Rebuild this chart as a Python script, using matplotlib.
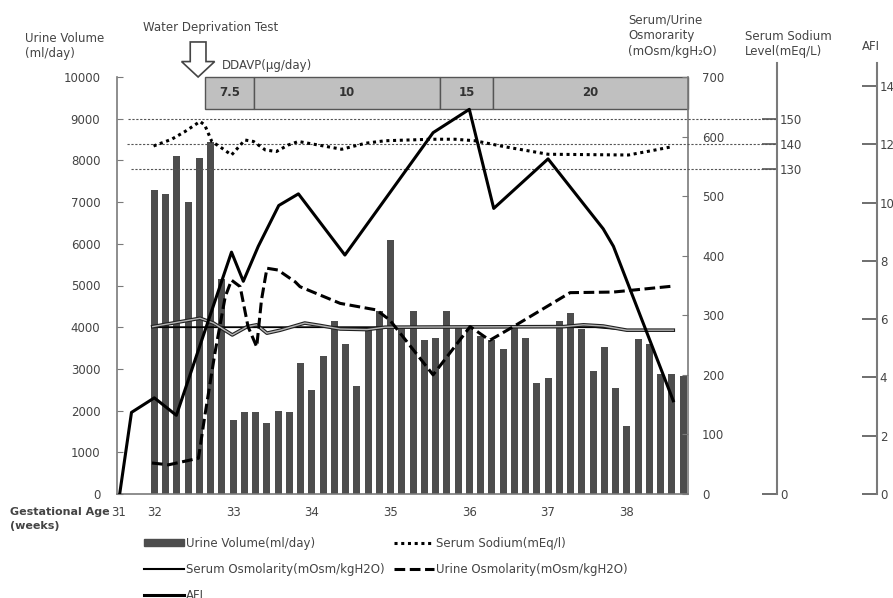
import numpy as np
import matplotlib
matplotlib.use("Agg")
import matplotlib.pyplot as plt
from matplotlib.patches import Rectangle, FancyArrow, Patch
from matplotlib.lines import Line2D

plt.rcParams["font.family"] = ["DejaVu Sans", "Noto Sans CJK JP"]
plt.rcParams["font.size"] = 8.5

# ---- data ----
# daily urine volume (ml/day), one bar per day from 32w0d
urine_volume = [7300, 7200, 8100, 7000, 8050, 8450, 5150, 1780, 1960, 1960,
                1700, 2000, 1960, 3150, 2500, 3300, 4150, 3600, 2600, 3970,
                4400, 6100, 4000, 4400, 3700, 3750, 4400, 4030, 3950, 3800,
                3700, 3480, 3970, 3750, 2670, 2780, 4140, 4340, 3950, 2960,
                3520, 2530, 1620, 3710, 3600, 2870, 2870, 2830]
uv_weeks = 32 + np.arange(len(urine_volume)) / 7.0

afi_weeks = [31.56, 31.71, 32.0, 32.28, 32.98, 33.13, 33.32, 33.58, 33.83,
             34.42, 35.54, 36.0, 36.31, 37.0, 37.70, 37.83, 38.59]
afi = [0, 2.8, 3.3, 2.7, 8.3, 7.3, 8.5, 9.9, 10.3, 8.2, 12.4, 13.2, 9.8,
       11.5, 9.1, 8.5, 3.2]

na_weeks = [31.99, 32.22, 32.39, 32.58, 32.64, 32.73, 32.86, 32.98, 33.15,
            33.26, 33.41, 33.55, 33.70, 33.83, 34.08, 34.38, 34.68, 34.93,
            35.52, 35.82, 36.07, 36.45, 37.0, 38.02, 38.36, 38.57]
serum_na = [139.2, 141.9, 145, 149, 147.6, 141, 138.3, 135.6, 141.6, 141,
            137.6, 137, 139.6, 141, 139.6, 137.9, 140.3, 141.3, 141.9, 141.9,
            141.3, 138.9, 135.9, 135.6, 137.6, 138.9]
na_ref = [150, 140, 130]

uosm_weeks = [31.97, 32.18, 32.56, 32.64, 32.77, 32.90, 32.98, 33.09, 33.19,
              33.30, 33.36, 33.43, 33.57, 33.79, 33.85, 34.36, 34.82, 34.99,
              35.54, 36.01, 36.26, 36.56, 37.28, 37.83, 38.59]
urine_osm = [52, 49, 60, 130, 237, 331, 359, 348, 281, 247, 325, 379, 376,
             356, 348, 320, 309, 292, 200, 281, 258, 281, 338, 339, 349]

sosm_weeks = [31.98, 32.58, 32.75, 32.99, 33.18, 33.30, 33.43, 33.60, 33.91,
              34.10, 34.36, 34.70, 34.93, 37.20, 37.45, 37.70, 38.0, 38.59]
serum_osm = [281, 295, 287, 267, 281, 284, 270, 275, 287, 283, 277, 276,
             280, 281, 284, 282, 275, 275]
sosm_line_weeks = [31.98, 37.6, 38.05, 38.59]
serum_osm_line = [280, 280, 275, 275]

dose_labels = ["7.5", "10", "15", "20"]
dose_start = [32.64, 33.27, 35.63, 36.30]
dose_end = [33.27, 35.63, 36.30, 38.777]

week_ticks = [31.55, 32, 33, 34, 35, 36, 37, 38]
week_labels = ["31", "32", "33", "34", "35", "36", "37", "38"]

GREY = "#7a7a7a"
TXT = "#444444"
BAR = "#4d4d4d"

W, H = 893, 598
fig = plt.figure(figsize=(W / 100, H / 100), dpi=100)
ax = fig.add_axes([117 / W, 1 - 494 / H, (688 - 117) / W, (494 - 77) / H])

# ---- urine volume bars ----
ax.bar(uv_weeks, urine_volume, width=0.62 / 7, color=BAR, zorder=2)
ax.set_xlim(31.526, 38.777)
ax.set_ylim(0, 10000)
ax.set_yticks(range(0, 10001, 1000))
ax.set_xticks(week_ticks)
ax.set_xticklabels(week_labels)
ax.tick_params(axis="y", direction="in", length=4, pad=12, colors=GREY,
               labelcolor=TXT, labelsize=8.5)
ax.tick_params(axis="x", length=0, pad=9, labelcolor=TXT, labelsize=8.5)
for s in ("top", "right"):
    ax.spines[s].set_visible(False)
for s in ("left", "bottom"):
    ax.spines[s].set_color(GREY)
    ax.spines[s].set_linewidth(1.2)

# DDAVP dose boxes
for lab, s0, s1 in zip(dose_labels, dose_start, dose_end):
    ax.add_patch(Rectangle((s0, 9240), s1 - s0, 760, facecolor="#c0c0c0",
                           edgecolor="#555555", lw=1.0, clip_on=False, zorder=3))
    ax.text((s0 + s1) / 2, 9620, lab, ha="center", va="center", fontsize=8.5,
            color="#333333", fontweight="bold", zorder=4)

# water deprivation arrow
ax.add_patch(FancyArrow(32.556, 10840, 0, -840, width=0.2, head_width=0.42,
                        head_length=370, length_includes_head=True,
                        facecolor="white", edgecolor="#444444", lw=1.2,
                        clip_on=False, zorder=5))

# ---- osmolarity axis ----
ax_osm = ax.twinx()
ax_osm.set_ylim(0, 700)
ax_osm.set_yticks(range(0, 701, 100))
ax_osm.tick_params(axis="y", direction="in", length=4, pad=10, colors=GREY,
                   labelcolor=TXT, labelsize=8.5)
for s in ("top", "left", "bottom"):
    ax_osm.spines[s].set_visible(False)
ax_osm.spines["right"].set_color(GREY)
ax_osm.spines["right"].set_linewidth(1.2)
ax_osm.plot(sosm_line_weeks, serum_osm_line, color="black", lw=1.3, zorder=3)
ax_osm.plot(sosm_weeks, serum_osm, color="#222222", lw=2.6, zorder=3)
ax_osm.plot(sosm_weeks, serum_osm, color="#b5b5b5", lw=1.0, zorder=3)
ax_osm.plot(uosm_weeks, urine_osm, color="black", lw=2.2,
            linestyle=(0, (3.5, 1.5)), zorder=4)

# ---- serum sodium axis ----
ax_na = ax.twinx()
ax_na.set_ylim(0, 166.8)
ax_na.set_yticks([0] + na_ref[::-1])
ax_na.spines["right"].set_position(("axes", (777 - 117) / (688 - 117)))
ax_na.spines["right"].set_bounds(0, 172.4)
ax_na.spines["right"].set_color(GREY)
ax_na.spines["right"].set_linewidth(1.5)
for s in ("top", "left", "bottom"):
    ax_na.spines[s].set_visible(False)
ax_na.tick_params(axis="y", direction="in", length=11, pad=2, colors="#555555",
                  labelcolor=TXT, labelsize=8.5, width=1.2)
ax_na.hlines(na_ref, [31.67, 31.65, 31.70], 39.905, colors="#555555",
             linestyles=(0, (2, 1.5)), lw=0.8, clip_on=False, zorder=1)
ax_na.plot(na_weeks, serum_na, color="black", lw=2.2,
           linestyle=(0, (1, 1.2)), zorder=4)

# ---- AFI axis ----
ax_afi = ax.twinx()
ax_afi.set_ylim(0, 14.31)
ax_afi.set_yticks(range(0, 15, 2))
ax_afi.spines["right"].set_position(("axes", (877 - 117) / (688 - 117)))
ax_afi.spines["right"].set_bounds(0, 14.79)
ax_afi.spines["right"].set_color(GREY)
ax_afi.spines["right"].set_linewidth(1.5)
for s in ("top", "left", "bottom"):
    ax_afi.spines[s].set_visible(False)
ax_afi.tick_params(axis="y", direction="in", length=11, pad=2, colors="#555555",
                   labelcolor=TXT, labelsize=8.5, width=1.2)
ax_afi.plot(afi_weeks, afi, color="black", lw=2.2, zorder=5)


# ---- titles / annotations ----
def ftext(x, y, s, **kw):
    fig.text(x / W, 1 - y / H, s, color=TXT, va="center", **kw)


ftext(25, 39, "Urine Volume", ha="left")
ftext(25, 54, "(ml/day)", ha="left")
ftext(211, 27, "Water Deprivation Test", ha="center")
ftext(222, 66, "DDAVP(μg/day)", ha="left")
ftext(628, 20, "Serum/Urine", ha="left")
ftext(628, 35, "Osmorarity", ha="left")
ftext(628, 51, "(mOsm/kgH₂O)", ha="left")
ftext(745, 37, "Serum Sodium", ha="left")
ftext(745, 52, "Level(mEq/L)", ha="left")
ftext(862, 47, "AFI", ha="left")
ftext(10, 512, "Gestational Age", ha="left", fontweight="bold", fontsize=8)
ftext(10, 526, "(weeks)", ha="left", fontweight="bold", fontsize=8)

# ---- legend ----
handles = [
    Patch(facecolor=BAR, edgecolor=BAR),
    Line2D([], [], color="black", lw=1.5),
    Line2D([], [], color="black", lw=2.2),
    Line2D([], [], color="black", lw=2.2, linestyle=(0, (1, 1.2))),
    Line2D([], [], color="black", lw=2.2, linestyle=(0, (3.5, 1.5))),
]
labels = ["Urine Volume(ml/day)", "Serum Osmolarity(mOsm/kgH2O)", "AFI",
          "Serum Sodium(mEq/l)", "Urine Osmolarity(mOsm/kgH2O)"]
leg = fig.legend(handles, labels, ncol=2, loc="upper left",
                 bbox_to_anchor=(139 / W, 1 - 532 / H), frameon=False,
                 handlelength=3.4, handletextpad=0.15, columnspacing=0.8,
                 labelspacing=1.1, fontsize=8.5, borderaxespad=0,
                 handleheight=0.6)
for t in leg.get_texts():
    t.set_color(TXT)

fig.savefig("out.png", dpi=100, facecolor="white")
